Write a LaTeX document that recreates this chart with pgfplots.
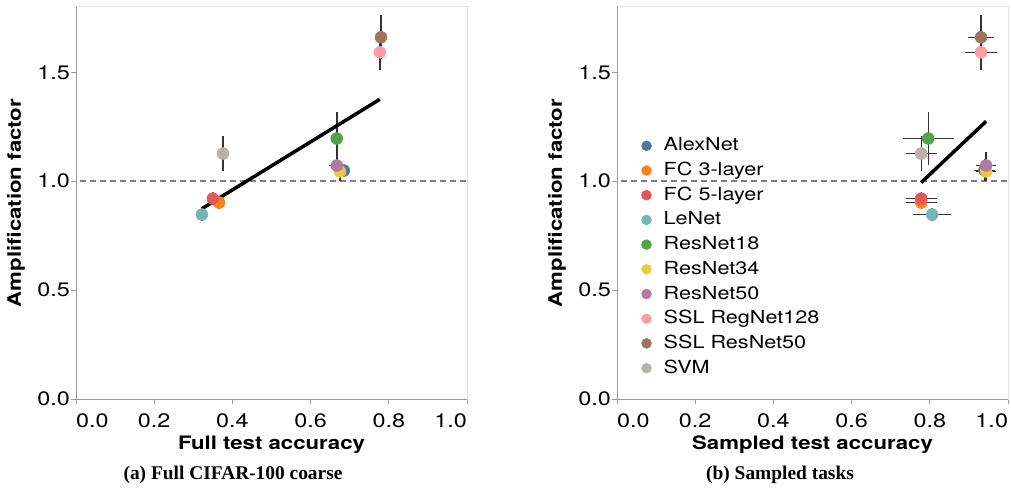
\documentclass[border=0pt]{standalone}
\usepackage{fontspec}
\setmainfont{TeX Gyre Heros}[FakeStretch=1.2]
\newfontfamily\capfont{Liberation Serif}
\usepackage{pgfplots}
\pgfplotsset{compat=1.18}

\definecolor{cAlex}{HTML}{4C78A8}
\definecolor{cFCt}{HTML}{F58518}
\definecolor{cFCf}{HTML}{E45756}
\definecolor{cLeNet}{HTML}{72B7B2}
\definecolor{cRes18}{HTML}{54A24B}
\definecolor{cRes34}{HTML}{EECA3B}
\definecolor{cRes50}{HTML}{B279A2}
\definecolor{cReg}{HTML}{FF9DA6}
\definecolor{cSSL}{HTML}{9D755D}
\definecolor{cSVM}{HTML}{BAB0AC}
\definecolor{axgray}{HTML}{999999}
\definecolor{framegray}{HTML}{E2E2E2}

\pgfplotsset{
  ampl/.style={
    scale only axis, width=391pt, height=392pt,
    xmin=0, xmax=1, ymin=0, ymax=1.8,
    xtick={0,0.2,0.4,0.6,0.8,1}, ytick={0,0.5,1,1.5},
    xticklabels={\rlap{0.0},0.2,0.4,0.6,0.8,\llap{1.0}},
    xtick pos=bottom, ytick pos=left,
    tick align=outside, major tick length=5pt,
    tick style={axgray, line width=0.8pt},
    axis line style={framegray, line width=1pt},
    ticklabel style={font=\fontsize{19.5}{23}\selectfont},
    xticklabel style={inner sep=0pt, yshift=-9pt},
    yticklabel style={inner sep=1pt},
    /pgf/number format/.cd, fixed, fixed zerofill, precision=1, assume math mode=true,
    /pgfplots/.cd,
    label style={font=\bfseries\fontsize{18.5}{22}\selectfont},
    xlabel style={at={(rel axis cs:0.5,0)}, anchor=base, yshift=-50pt},
    ylabel style={at={(rel axis cs:0,0.5)}, anchor=center, yshift=60pt},
    ylabel={Amplification factor},
    error bars/x dir=both, error bars/x explicit,
    error bars/y dir=both, error bars/y explicit,
    error bars/error mark=none,
    error bars/error bar style={black!80, line width=1.4pt},
  },
  pt/.style={only marks, mark=*, mark size=6pt, color=#1},
  ref/.style={forget plot, no marks, error bars/x dir=none, error bars/y dir=none},
}

\begin{document}
\begin{tikzpicture}
\useasboundingbox (0,0) rectangle (1011pt,496pt);

% (a) full CIFAR-100 coarse
\begin{axis}[ampl, at={(76pt,97pt)}, anchor=south west, xlabel={Full test accuracy}]
  \draw[axgray, line width=1pt] (rel axis cs:0,1) -- (rel axis cs:0,0) -- (rel axis cs:1,0);
  \addplot[ref, color=gray, line width=2pt, dash pattern=on 6pt off 4pt] coordinates {(0.01,1) (1,1)};
  \addplot[pt=cAlex]  coordinates {(0.685,1.049) +- (0.008,0.02)};
  \addplot[pt=cFCt]   coordinates {(0.366,0.902) +- (0.006,0.03)};
  \addplot[pt=cFCf]   coordinates {(0.350,0.920) +- (0.005,0.03)};
  \addplot[pt=cLeNet] coordinates {(0.322,0.847) +- (0.005,0.03)};
  \addplot[pt=cRes18] coordinates {(0.667,1.196) +- (0.005,0.12)};
  \addplot[pt=cRes34] coordinates {(0.675,1.045) +- (0.008,0.045)};
  \addplot[pt=cRes50] coordinates {(0.667,1.072) +- (0.02,0.02)};
  \addplot[pt=cReg]   coordinates {(0.777,1.592) +- (0.003,0.08)};
  \addplot[pt=cSSL]   coordinates {(0.780,1.661) +- (0.003,0.10)};
  \addplot[pt=cSVM]   coordinates {(0.376,1.127) +- (0.005,0.08)};
  \addplot[ref, black, line width=3.5pt] coordinates {(0.322,0.874) (0.777,1.376)};
\end{axis}

% (b) sampled tasks
\begin{axis}[ampl, at={(617pt,97pt)}, anchor=south west, xlabel={Sampled test accuracy},
  legend style={at={(rel axis cs:0.054,0.677)}, anchor=north west, draw=none, fill=none,
    font=\fontsize{18}{22}\selectfont, row sep=4.7pt, column sep=11pt,
    nodes={inner sep=1pt, text height=14pt, text depth=4pt}},
  legend cell align=left,
  legend image code/.code={\fill[#1] (0pt,0pt) circle (5pt);}]
  \draw[axgray, line width=1pt] (rel axis cs:0,1) -- (rel axis cs:0,0) -- (rel axis cs:1,0);
  \addplot[ref, color=gray, line width=2pt, dash pattern=on 6pt off 4pt] coordinates {(0.01,1) (1,1)};
  \addplot[pt=cAlex]  coordinates {(0.940,1.050) +- (0.026,0.05)};
  \addplot[pt=cFCt]   coordinates {(0.778,0.902) +- (0.04,0.03)};
  \addplot[pt=cFCf]   coordinates {(0.778,0.920) +- (0.04,0.03)};
  \addplot[pt=cLeNet] coordinates {(0.806,0.847) +- (0.049,0.03)};
  \addplot[pt=cRes18] coordinates {(0.796,1.196) +- (0.065,0.12)};
  \addplot[pt=cRes34] coordinates {(0.944,1.045) +- (0.026,0.045)};
  \addplot[pt=cRes50] coordinates {(0.944,1.072) +- (0.026,0.06)};
  \addplot[pt=cReg]   coordinates {(0.931,1.592) +- (0.042,0.08)};
  \addplot[pt=cSSL]   coordinates {(0.931,1.661) +- (0.033,0.10)};
  \addplot[pt=cSVM]   coordinates {(0.778,1.127) +- (0.04,0.08)};
  \addplot[ref, black, line width=3.5pt] coordinates {(0.778,0.994) (0.944,1.275)};
  \legend{AlexNet, FC 3-layer, FC 5-layer, LeNet, ResNet18, ResNet34, ResNet50, SSL RegNet128, SSL ResNet50, SVM}
\end{axis}

\node[font=\capfont\bfseries\fontsize{19.4}{23}\selectfont, anchor=base] at (233pt,17pt) {(a) Full CIFAR-100 coarse};
\node[font=\capfont\bfseries\fontsize{19.4}{23}\selectfont, anchor=base] at (780pt,17pt) {(b) Sampled tasks};
\end{tikzpicture}
\end{document}
